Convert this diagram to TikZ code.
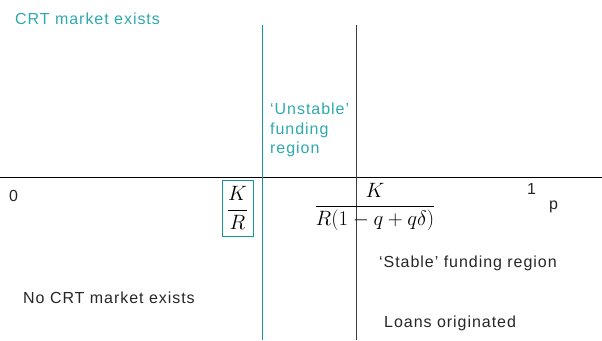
\documentclass[tikz,border=0pt]{standalone}
\usepackage{fontspec}
\setmainfont{Liberation Sans}[LetterSpace=6]
\definecolor{tealline}{RGB}{20,150,155}
\definecolor{tealtext}{RGB}{45,170,175}
\definecolor{darkline}{RGB}{60,60,60}
\begin{document}
\begin{tikzpicture}[x=1pt,y=-1pt,
  lbl/.style={font=\fontsize{16}{19.5}\selectfont, inner sep=0pt, anchor=west, text=black!85},
  tlbl/.style={lbl, text=tealtext},
  mathlbl/.style={font=\fontsize{21}{25}\selectfont, inner sep=0pt}]
\useasboundingbox (0,0) rectangle (602,340);
% axes and boundaries
\coordinate (hl) at (0,177);
\coordinate (hr) at (602,177);
\coordinate (t1) at (262,25);
\coordinate (b1) at (262,340);
\coordinate (t2) at (356,25);
\coordinate (b2) at (356,340);
\draw[black, line width=1pt] (hl) -- (hr);
\draw[tealline, line width=0.9pt] (t1) -- (b1);
\draw[darkline, line width=1pt] (t2) -- (b2);
% labels
\node[tlbl] (crt) at (15,19) {CRT market exists};
\node[tlbl, align=left, anchor=north west] (unst) at (270,103) {‘Unstable’\\funding\\region};
\node[lbl] (zero) at (9,196) {0};
\node[lbl] (one) at (527,189) {1};
\node[lbl] (p) at (549,207) {p};
\node[mathlbl, draw=tealline, line width=0.8pt, inner sep=2pt, minimum width=31pt, minimum height=56pt] (kr) at (237.5,208) {$\displaystyle\frac{K}{R}$};
\node[mathlbl] (frac) at (375,207) {$\displaystyle\frac{K}{R(1-q+q\delta)}$};
\node[lbl] (stable) at (379,263) {‘Stable’ funding region};
\node[lbl] (nocrt) at (23,298) {No CRT market exists};
\node[lbl] (loans) at (384,323) {Loans originated};
\end{tikzpicture}
\end{document}
